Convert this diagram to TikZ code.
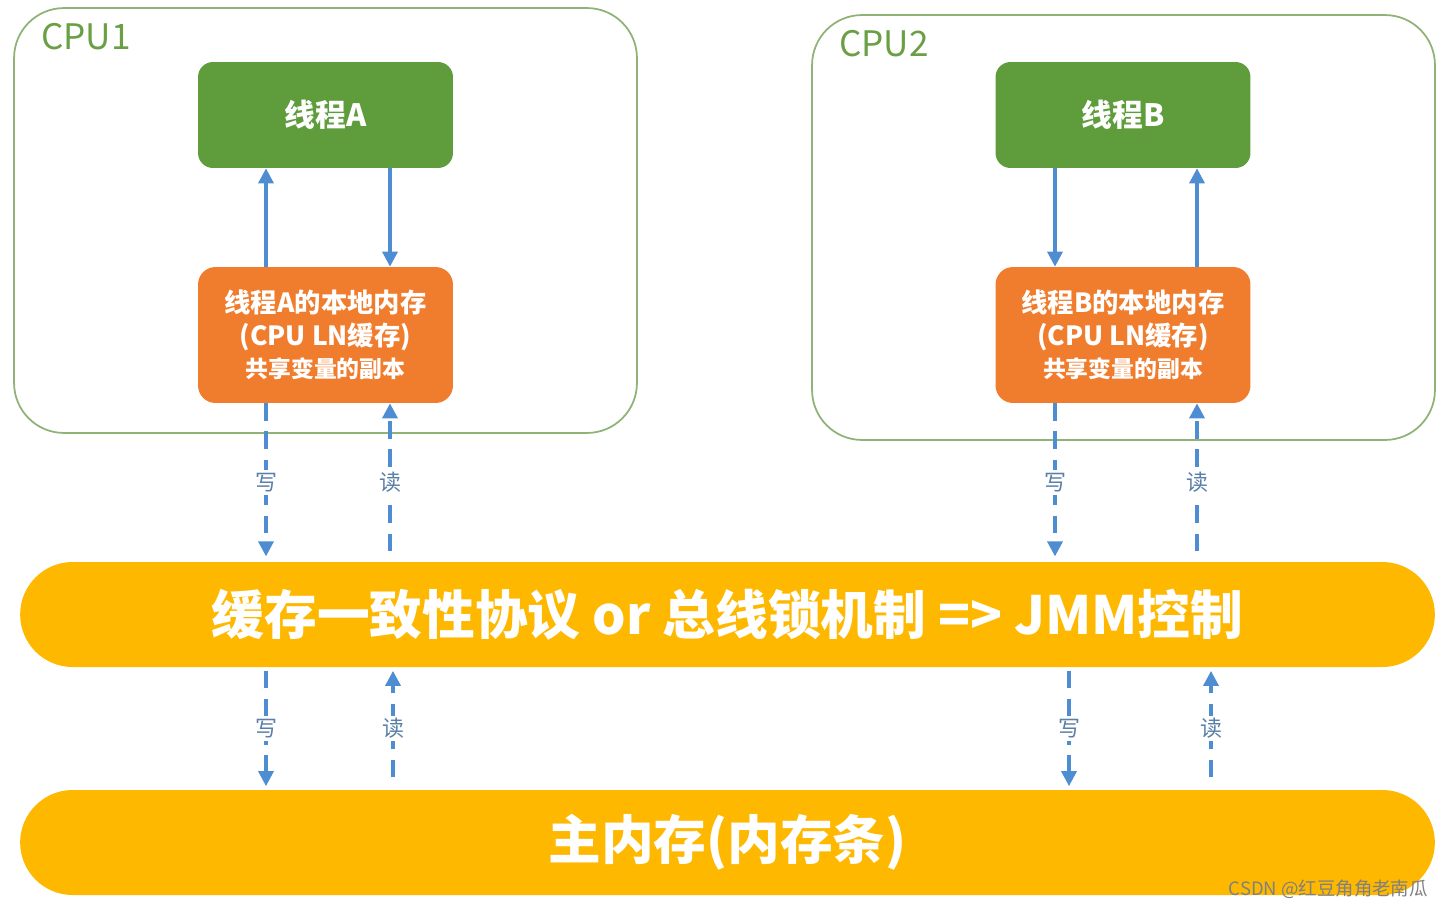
\documentclass[tikz,border=0pt]{standalone}
\usepackage{fontspec}
\setmainfont{Noto Sans CJK SC}
\usetikzlibrary{arrows.meta,positioning}
\definecolor{jmGreen} {HTML}{5E9C3C}
\definecolor{jmLeaf}  {HTML}{8FB277}
\definecolor{jmLabel} {HTML}{6A9F45}
\definecolor{jmOrange}{HTML}{F07D2E}
\definecolor{jmGold}  {HTML}{FFB800}
\definecolor{jmBlue}  {HTML}{4F8DD2}
\definecolor{jmInk}   {HTML}{5A7FA8}
\newcommand{\fsz}[1]{\fontsize{#1}{#1}\selectfont}

\begin{document}
\begin{tikzpicture}[x=0.02cm,y=-0.02cm,
      cpu/.style={draw=jmLeaf,line width=1pt,rounded corners=1cm,
                  minimum width=12.46cm,minimum height=8.5cm},
      thread/.style={fill=jmGreen,rounded corners=0.3cm,minimum width=5.1cm,
                     minimum height=2.12cm,text=white,font=\bfseries\fsz{17.5}},
      cache/.style={fill=jmOrange,rounded corners=0.35cm,minimum width=5.1cm,
                    minimum height=2.72cm,text=white,align=center,
                    font=\bfseries\fontsize{15}{18.5}\selectfont},
      bar/.style={fill=jmGold,rounded corners=1.05cm,minimum width=28.3cm,
                  minimum height=2.1cm,text=white,font=\bfseries\fsz{30}},
      flow/.style={-{Triangle[length=8.5pt,width=8.5pt]},jmBlue,line width=1.9pt},
      rw/.style={flow,dash pattern=on 10pt off 6pt},
      tag/.style={fill=white,text=jmInk,font=\fsz{12.5},inner sep=1.5pt}]

    \useasboundingbox (0,0) rectangle (1449,910);

    % the two processors
    \node[cpu] (cpuA) at (325.5,220.5) {};
    \node[cpu] (cpuB) at (1123.5,227.5) {};
    \node[anchor=west,text=jmLabel,font=\fsz{20}] (nameA) at (35,37) {CPU1};
    \node[anchor=west,text=jmLabel,font=\fsz{20}] (nameB) at (833,44) {CPU2};

    \node[thread] (thrA) at (325.5,115) {线程A};
    \node[cache] (locA) at (325.5,335)
      {线程A的本地内存\\(CPU LN缓存)\\{\fsz{13}共享变量的副本}};
    \node[thread] (thrB) at (1123,115) {线程B};
    \node[cache] (locB) at (1123,335)
      {线程B的本地内存\\(CPU LN缓存)\\{\fsz{13}共享变量的副本}};

    % shared layers
    \node[bar] (bus) at (727.5,614.5) {缓存一致性协议 or 总线锁机制 => JMM控制};
    \node[bar] (mem) at (727.5,842.5) {主内存(内存条)};

    % columns of the arrows
    \coordinate (a1) at (266,0);
    \coordinate (a2) at (390,0);
    \coordinate (a3) at (393,0);
    \coordinate (b1) at (1055,0);
    \coordinate (b2) at (1197,0);
    \coordinate (b3) at (1069,0);
    \coordinate (b4) at (1211,0);

    \draw[flow] (locA.north -| a1) -- (thrA.south -| a1);
    \draw[flow] (thrA.south -| a2) -- (locA.north -| a2);
    \draw[flow] (thrB.south -| b1) -- (locB.north -| b1);
    \draw[flow] (locB.north -| b2) -- (thrB.south -| b2);

    \draw[rw,shorten >=3pt] (locA.south -| a1) -- node[tag] {写} (bus.north -| a1);
    \draw[rw,shorten <=6pt] (bus.north -| a2) -- node[tag] {读} (locA.south -| a2);
    \draw[rw,shorten >=3pt] (locB.south -| b1) -- node[tag] {写} (bus.north -| b1);
    \draw[rw,shorten <=6pt] (bus.north -| b2) -- node[tag] {读} (locB.south -| b2);

    \draw[rw,shorten >=2pt,shorten <=2pt] (bus.south -| a1) -- node[tag] {写} (mem.north -| a1);
    \draw[rw,shorten <=7pt,shorten >=2pt] (mem.north -| a3) -- node[tag] {读} (bus.south -| a3);
    \draw[rw,shorten >=2pt,shorten <=2pt] (bus.south -| b3) -- node[tag] {写} (mem.north -| b3);
    \draw[rw,shorten <=7pt,shorten >=2pt] (mem.north -| b4) -- node[tag] {读} (bus.south -| b4);

    \node[anchor=east,text=gray,font=\fsz{10.5}] (mark) at (1434,889)
      {CSDN @红豆角角老南瓜};
  \end{tikzpicture}
\end{document}
